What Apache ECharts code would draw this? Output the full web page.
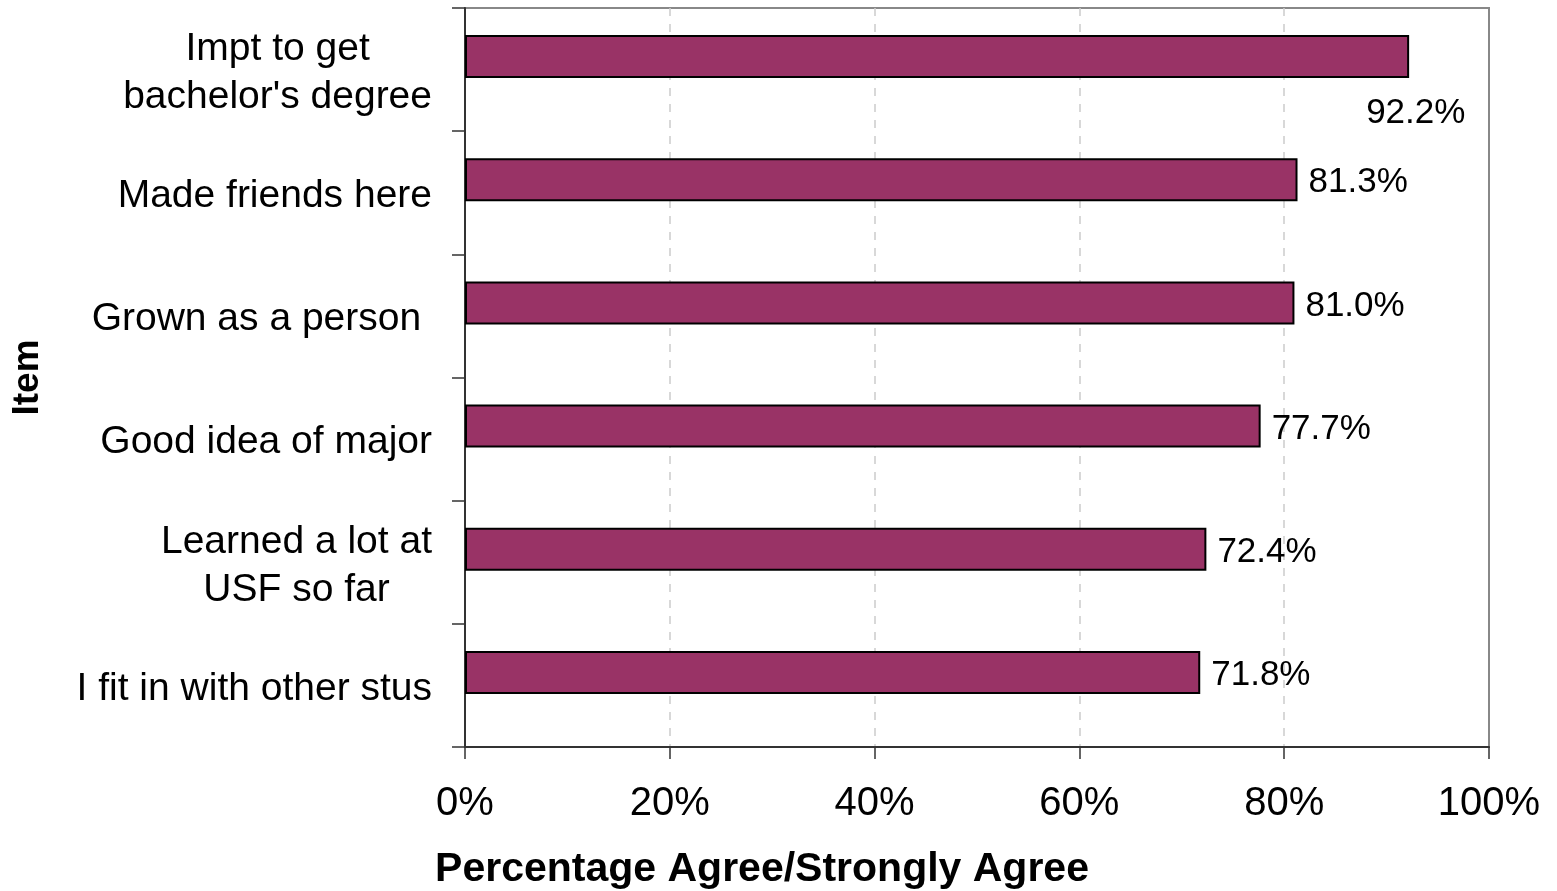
<!DOCTYPE html>
<html>
<head>
<meta charset="utf-8">
<script src="https://cdn.jsdelivr.net/npm/echarts@6/dist/echarts.min.js"></script>
<style>
html,body{margin:0;padding:0;background:#fff;}
#chart{width:1557px;height:891px;}
</style>
</head>
<body>
<div id="chart"></div>
<script>
const categories = [
  "Impt to get\nbachelor's degree",
  "Made friends here",
  "Grown as a person ",
  "Good idea of major",
  "Learned a lot at\nUSF so far",
  "I fit in with other stus"
];
const values = [92.2, 81.3, 81.0, 77.7, 72.4, 71.8];
const xTicks = [0, 20, 40, 60, 80, 100];
const xTitle = 'Percentage Agree/Strongly Agree';
const yTitle = 'Item';

const FONT = '"Liberation Sans", Arial, sans-serif';
const chart = echarts.init(document.getElementById('chart'));

const barData = values.map((v, i) => {
  const d = { value: v };
  if (i === 0) {
    d.label = { offset: [-54, 57] };
  }
  return d;
});

chart.setOption({
  animation: false,
  backgroundColor: '#ffffff',
  grid: { left: 465, right: 68, top: 8, bottom: 144, containLabel: false,
          outerBoundsMode: 'none',
          show: true, borderColor: '#888888', borderWidth: 2 },
  xAxis: {
    type: 'value',
    min: xTicks[0], max: xTicks[xTicks.length - 1], interval: 20,
    name: xTitle,
    nameLocation: 'middle',
    nameGap: 102,
    nameMoveOverlap: false,
    nameTextStyle: { fontFamily: FONT, fontWeight: 'bold', fontSize: 41, color: '#000',
                     padding: [0, 430, 0, 0] },
    axisLine: { show: true, lineStyle: { color: '#333', width: 2 } },
    axisTick: { show: true, length: 12, lineStyle: { color: '#333', width: 1.5 } },
    axisLabel: { fontFamily: FONT, fontSize: 40, color: '#000', margin: 37,
                 formatter: v => v + '%' },
    splitLine: { show: true, showMinLine: false, showMaxLine: false,
                 lineStyle: { color: '#cccccc', type: [8, 8], width: 1.5 } }
  },
  yAxis: {
    type: 'category',
    inverse: true,
    data: categories,
    name: yTitle,
    nameLocation: 'middle',
    nameGap: 419,
    nameRotate: 90,
    nameMoveOverlap: false,
    nameTextStyle: { fontFamily: FONT, fontWeight: 'bold', fontSize: 37, color: '#000' },
    axisLine: { show: true, lineStyle: { color: '#333', width: 2 } },
    axisTick: { show: true, length: 13, inside: false, alignWithLabel: false, lineStyle: { color: '#333', width: 1.5 } },
    axisLabel: {
      margin: 33,
      padding: [7, 0, 0, 0],
      fontFamily: FONT, fontSize: 39, color: '#000', lineHeight: 48,
      formatter: v => v.split('\n').map(s => '{c|' + s + '}').join('\n'),
      rich: { c: { align: 'center', fontFamily: FONT, fontSize: 39, color: '#000', lineHeight: 48 } }
    },
    splitLine: { show: false }
  },
  series: [
    {
      type: 'bar',
      data: barData,
      barWidth: 43,
      barGap: '0%',
      itemStyle: { color: '#993366', borderColor: '#000', borderWidth: 2 },
      label: { show: true, position: 'right', distance: 11, offset: [0, 3], fontFamily: FONT, fontSize: 35, color: '#000',
               formatter: p => p.value.toFixed(1) + '%' }
    },
    {
      type: 'bar',
      data: values.map(() => '-'),
      barWidth: 26,
      silent: true,
      itemStyle: { color: 'transparent' }
    }
  ]
});
</script>
</body>
</html>
